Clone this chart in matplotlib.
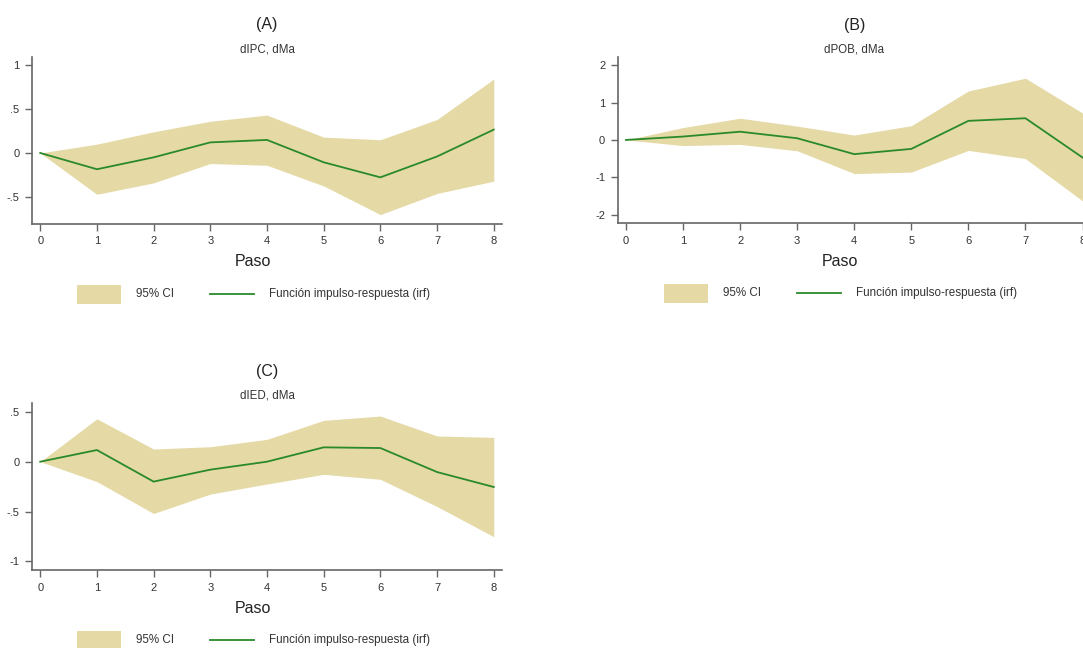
import numpy as np
import matplotlib
matplotlib.use('Agg')
import matplotlib.pyplot as plt
from matplotlib.patches import Rectangle
from matplotlib.lines import Line2D

plt.rcParams['font.family'] = ['Liberation Sans', 'DejaVu Sans']

# ----------------------- datos -----------------------
pasos = np.arange(9)

irf_a = [0, -0.185, -0.05, 0.12, 0.148, -0.106, -0.277, -0.04, 0.265]
up_a  = [0, 0.10, 0.24, 0.36, 0.43, 0.18, 0.15, 0.38, 0.84]
lo_a  = [0, -0.47, -0.34, -0.12, -0.14, -0.375, -0.70, -0.46, -0.32]

irf_b = [0, 0.09, 0.22, 0.045, -0.38, -0.24, 0.51, 0.58, -0.47]
up_b  = [0, 0.33, 0.58, 0.37, 0.13, 0.38, 1.31, 1.65, 0.72]
lo_b  = [0, -0.15, -0.12, -0.29, -0.90, -0.86, -0.28, -0.50, -1.63]

irf_c = [0, 0.117, -0.20, -0.08, 0.0, 0.144, 0.137, -0.104, -0.254]
up_c  = [0, 0.43, 0.127, 0.15, 0.224, 0.415, 0.458, 0.258, 0.244]
lo_c  = [0, -0.20, -0.52, -0.325, -0.224, -0.127, -0.177, -0.45, -0.753]

titulos = ['(A)', '(B)', '(C)']
subtitulos = ['dIPC, dMa', 'dPOB, dMa', 'dIED, dMa']
yticks_a = [-0.5, 0, 0.5, 1];   ylab_a = ['-.5', '0', '.5', '1']
yticks_b = [-2, -1, 0, 1, 2];   ylab_b = ['-2', '-1', '0', '1', '2']
yticks_c = [-1, -0.5, 0, 0.5];  ylab_c = ['-1', '-.5', '0', '.5']
leyenda = ['95% CI', 'Función impulso-respuesta (irf)']

# ----------------------- estilo -----------------------
W, H = 1083, 648
c_fill = '#e5d9a6'
c_line = '#2a8a2a'
c_axis = '#666666'
c_text = '#333333'

fig = plt.figure(figsize=(W / 100, H / 100), dpi=100)

def fx(x):
    return x / W

def fy(y):
    return 1 - y / H

def panel(left, right, top, bottom, ylim, irf, up, lo, yt, yl, tit, sub):
    ax = fig.add_axes([fx(left), fy(bottom), fx(right - left), (bottom - top) / H])
    ax.fill_between(pasos, lo, up, color=c_fill, linewidth=0)
    ax.plot(pasos, irf, color=c_line, linewidth=1.3)
    ax.set_xlim(-0.145, 8.145)
    ax.set_ylim(*ylim)
    ax.set_xticks(pasos)
    ax.set_yticks(yt)
    ax.set_yticklabels(yl)
    for s in ['top', 'right']:
        ax.spines[s].set_visible(False)
    for s in ['left', 'bottom']:
        ax.spines[s].set_color(c_axis)
        ax.spines[s].set_linewidth(1.2)
    ax.tick_params(colors=c_axis, labelcolor=c_text, labelsize=8, length=5,
                   width=1, pad=4)
    cx = (left + right) / 2
    fig.text(fx(cx), fy(top - 32), tit, ha='center', va='center', fontsize=11.5,
             color='#222222')
    fig.text(fx(cx), fy(top - 8), sub, ha='center', va='center', fontsize=8.3,
             color=c_text)
    fig.text(fx(cx - 14), fy(bottom + 38), 'Paso', ha='center', va='center',
             fontsize=11.5, color='#222222')
    # leyenda
    ly = bottom + 70
    x0 = cx - 190
    fig.add_artist(Rectangle((fx(x0), fy(ly + 9.5)), fx(44), 19 / H,
                             transform=fig.transFigure, color=c_fill, lw=0))
    fig.text(fx(x0 + 59), fy(ly), leyenda[0], ha='left', va='center', fontsize=8.4,
             color=c_text)
    fig.add_artist(Line2D([fx(x0 + 133), fx(x0 + 177)], [fy(ly), fy(ly)],
                          transform=fig.transFigure, color=c_line, lw=1.3))
    fig.text(fx(x0 + 192), fy(ly), leyenda[1], ha='left', va='center', fontsize=8.4,
             color=c_text)
    return ax

panel(32, 502, 57, 224, (-0.807, 1.09), irf_a, up_a, lo_a, yticks_a, ylab_a,
      titulos[0], subtitulos[0])
panel(617.7, 1090.8, 57.3, 223.3, (-2.23, 2.21), irf_b, up_b, lo_b, yticks_b, ylab_b,
      titulos[1], subtitulos[1])
panel(32, 502, 403.3, 570.3, (-1.09, 0.586), irf_c, up_c, lo_c, yticks_c, ylab_c,
      titulos[2], subtitulos[2])

fig.savefig('out.png', dpi=100)
